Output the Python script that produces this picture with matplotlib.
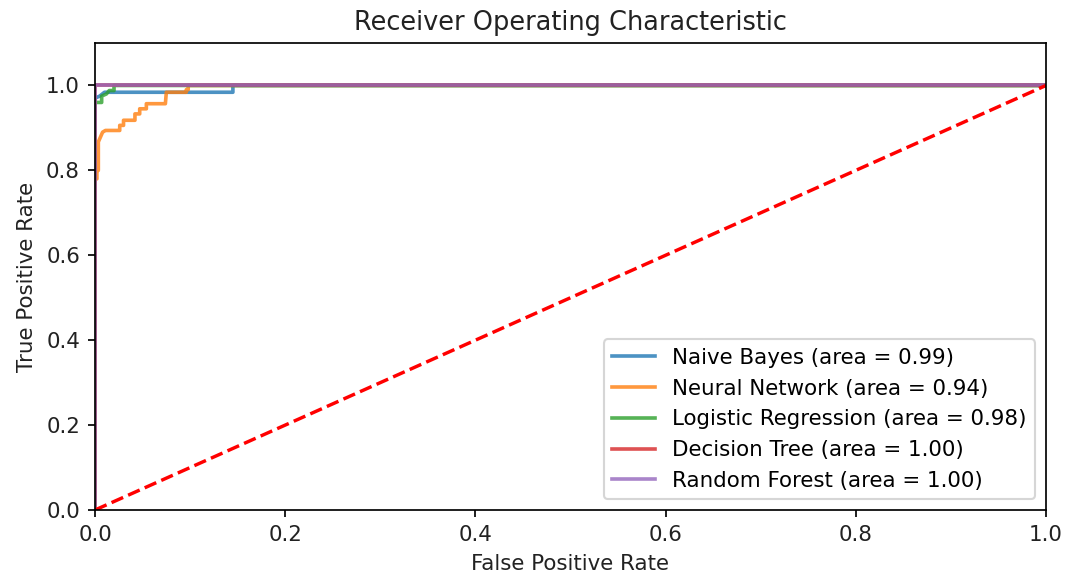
import matplotlib
matplotlib.use("Agg")
import matplotlib.pyplot as plt

nb_fpr = [0.0, 0.0, 0.005, 0.01, 0.145, 0.145, 1.0]
nb_tpr = [0.0, 0.97, 0.975, 0.984, 0.984, 1.0, 1.0]

nn_fpr = [0.0, 0.0, 0.002, 0.002, 0.0035, 0.0035, 0.008, 0.011, 0.024, 0.026, 0.026,
          0.030, 0.030, 0.042, 0.042, 0.047, 0.047, 0.054, 0.054, 0.074, 0.075,
          0.096, 0.096, 0.098, 0.098, 1.0]
nn_tpr = [0.0, 0.78, 0.78, 0.80, 0.80, 0.867, 0.89, 0.894, 0.894, 0.894, 0.906,
          0.906, 0.918, 0.918, 0.933, 0.933, 0.945, 0.945, 0.957, 0.957, 0.984,
          0.984, 0.99, 0.99, 1.0, 1.0]

lr_fpr = [0.0, 0.0, 0.007, 0.007, 0.012, 0.015, 0.02, 0.02, 1.0]
lr_tpr = [0.0, 0.96, 0.96, 0.975, 0.98, 0.988, 0.988, 1.0, 1.0]

dt_fpr = [0.0, 0.0, 1.0]
dt_tpr = [0.0, 1.0, 1.0]

rf_fpr = [0.0, 0.0, 1.0]
rf_tpr = [0.0, 1.0, 1.0]

labels = ["Naive Bayes (area = 0.99)", "Neural Network (area = 0.94)",
          "Logistic Regression (area = 0.98)", "Decision Tree (area = 1.00)",
          "Random Forest (area = 1.00)"]

DPI = 154
fig = plt.figure(figsize=(1069/DPI, 580/DPI), dpi=DPI)
ax = fig.add_axes([95/1069, 70/580, (1046-95)/1069, (510-43)/580])
curves = [(nb_fpr, nb_tpr), (nn_fpr, nn_tpr), (lr_fpr, lr_tpr), (dt_fpr, dt_tpr), (rf_fpr, rf_tpr)]
for (f, t), lab in zip(curves, labels):
    ax.plot(f, t, label=lab, alpha=0.8, lw=1.7)
ax.plot([0, 1], [0, 1], 'r--', lw=1.6)
ax.set_xlim(0, 1)
ax.set_ylim(0, 1.1)
ax.set_xlabel("False Positive Rate", color="#222222")
ax.set_ylabel("True Positive Rate", color="#222222")
ax.set_title("Receiver Operating Characteristic", color="#222222")
ax.tick_params(labelcolor="#222222")
ax.legend(loc="lower right")
fig.savefig("out.png", dpi=DPI)
